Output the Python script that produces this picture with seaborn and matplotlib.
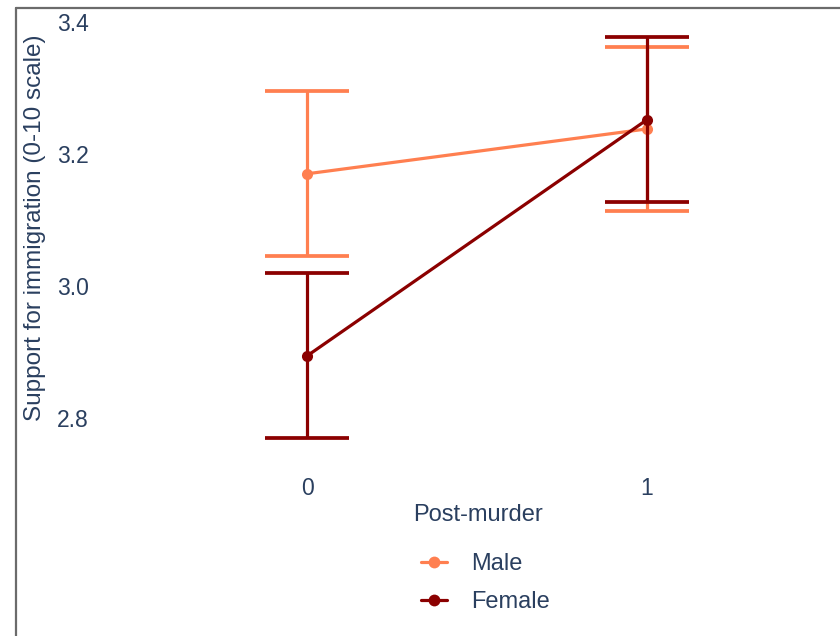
import matplotlib
matplotlib.use("Agg")
import matplotlib.pyplot as plt
from matplotlib.lines import Line2D
import seaborn as sns
import pandas as pd

# Mean support for immigration before / after the murder, by gender
post_murder = [0, 1]
male_mean = [3.170, 3.238]
male_ci = [0.125, 0.124]
female_mean = [2.894, 3.252]
female_ci = [0.125, 0.125]
groups = ["Male", "Female"]
colors = {"Male": "#FF7F50", "Female": "#8B0000"}

df = pd.DataFrame({
    "post": post_murder * 2,
    "mean": male_mean + female_mean,
    "ci": male_ci + female_ci,
    "gender": ["Male"] * 2 + ["Female"] * 2,
})

sns.set_style("white")
plt.rcParams["font.family"] = ["Liberation Sans", "DejaVu Sans"]
text_color = "#2a3f5f"

fig = plt.figure(figsize=(8.4, 6.36), dpi=100)
ax = fig.add_axes([100 / 840, 1 - 460 / 636, 740 / 840, 442 / 636])

for g in groups:
    sub = df[df["gender"] == g]
    ax.errorbar(sub["post"], sub["mean"], yerr=sub["ci"], fmt="none",
                ecolor=colors[g], elinewidth=2.3, capsize=30, capthick=2.7,
                zorder=2 if g == "Male" else 4)
    sns.lineplot(data=sub, x="post", y="mean", color=colors[g], marker="o",
                 markersize=8, markeredgewidth=0, linewidth=2.3, ax=ax,
                 zorder=3 if g == "Male" else 5, label=g, legend=False)

ax.set_xlim((100 - 307) / 340, (840 - 307) / 340)
ax.set_ylim(3.4 - (460 - 22) / 660, 3.4 + 4 / 660)
ax.set_xticks([0, 1])
ax.set_xticklabels(["0", "1"])
ax.set_yticks([2.8, 3.0, 3.2, 3.4])
ax.set_yticklabels(["2.8", "3.0", "3.2", "3.4"])
ax.tick_params(axis="both", length=0, labelsize=16.5, labelcolor=text_color)
ax.tick_params(axis="x", pad=12)
ax.tick_params(axis="y", pad=8)
for s in ax.spines.values():
    s.set_visible(False)
ax.grid(False)
ax.set_xlabel("")
ax.set_ylabel("")

fig.text(478 / 840, 1 - 515 / 636, "Post-murder", ha="center", va="center",
         fontsize=17, color=text_color)
fig.text(35 / 840, 1 - 228 / 636, "Support for immigration (0-10 scale)",
         ha="center", va="center", rotation=90, fontsize=17.5, color=text_color)

handles = [Line2D([0], [0], color=colors[g], marker="o", markersize=8.5,
                  markeredgewidth=0, linewidth=2.3) for g in groups]
fig.legend(handles, groups, loc="center left",
           bbox_to_anchor=(400 / 840, 1 - 583 / 636), frameon=False,
           fontsize=17, labelcolor=text_color, handlelength=1.1,
           handletextpad=1.0, labelspacing=0.66)

# frame lines along the top and left of the canvas
fig.add_artist(Line2D([16 / 840, 16 / 840], [0, 1 - 8 / 636],
                      transform=fig.transFigure, color="#6b6b6b", linewidth=1.6))
fig.add_artist(Line2D([16 / 840, 1], [1 - 8 / 636, 1 - 8 / 636],
                      transform=fig.transFigure, color="#6b6b6b", linewidth=1.6))

fig.savefig("out.png", dpi=100, facecolor="white")
